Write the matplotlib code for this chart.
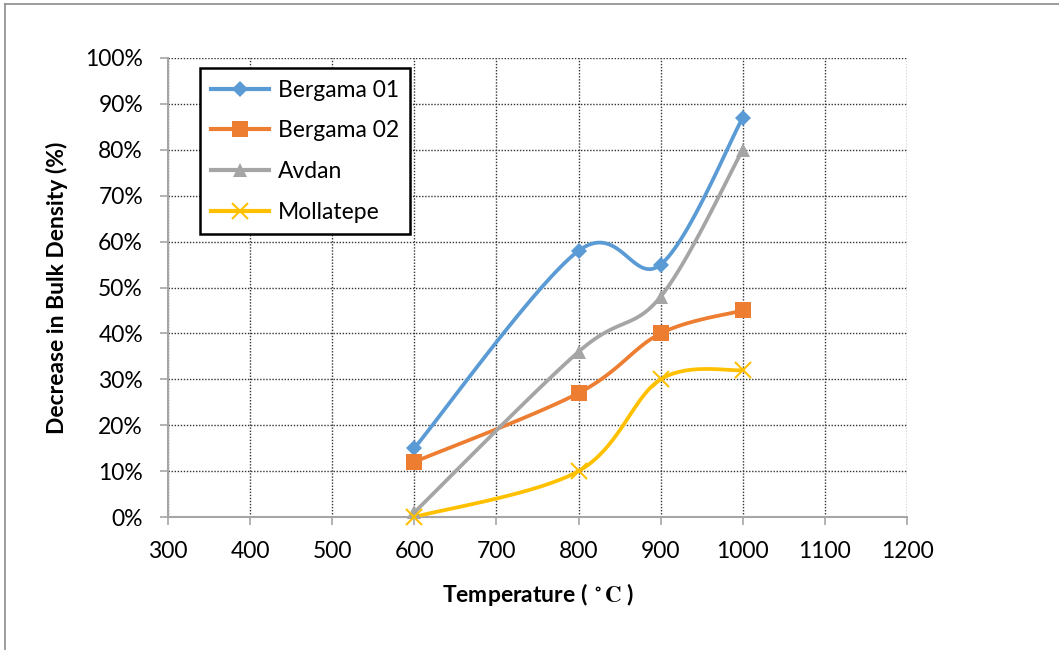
import numpy as np
import matplotlib.pyplot as plt
from matplotlib.lines import Line2D
from matplotlib.ticker import FuncFormatter

# --- data ---
temperatures = [600, 800, 900, 1000]
bergama_01 = [15, 58, 55, 87]
bergama_02 = [12, 27, 40, 45]
avdan = [1, 36, 48, 80]
mollatepe = [0, 10, 30, 32]

series_names = ["Bergama 01", "Bergama 02", "Avdan", "Mollatepe"]
series_values = [bergama_01, bergama_02, avdan, mollatepe]

x_ticks = [300, 400, 500, 600, 700, 800, 900, 1000, 1100, 1200]
y_ticks = [0, 10, 20, 30, 40, 50, 60, 70, 80, 90, 100]

colors = ["#5B9BD5", "#ED7D31", "#A5A5A5", "#FFC000"]
markers = ["D", "s", "^", "x"]
marker_sizes = [8, 11, 10, 11]

plt.rcParams['font.family'] = ['Lato', 'DejaVu Sans']
plt.rcParams['mathtext.fontset'] = 'stix'


def excel_smooth(xs, ys, n=40):
    # Bezier smoothing like Excel's "smoothed line"
    p = np.column_stack([xs, ys]).astype(float)
    ext = np.vstack([p[0], p, p[-1]])
    out = []
    t = np.linspace(0, 1, n)[:, None]
    for i in range(len(p) - 1):
        p0, p3 = ext[i + 1], ext[i + 2]
        c1 = p0 + (ext[i + 2] - ext[i]) / 6
        c2 = p3 - (ext[i + 3] - ext[i + 1]) / 6
        seg = ((1 - t) ** 3) * p0 + 3 * ((1 - t) ** 2) * t * c1 + 3 * (1 - t) * t ** 2 * c2 + t ** 3 * p3
        out.append(seg if i == 0 else seg[1:])
    out = np.vstack(out)
    return out[:, 0], out[:, 1]


fig = plt.figure(figsize=(10.59, 6.5), dpi=100)
ax = fig.add_axes([168 / 1059, 1 - 517 / 650, 739 / 1059, 459 / 650])

for name, vals, c, m, ms in zip(series_names, series_values, colors, markers, marker_sizes):
    sx, sy = excel_smooth(temperatures, vals)
    ax.plot(sx, sy, color=c, lw=2.7, solid_capstyle='round', zorder=3)
    ax.plot(temperatures, vals, ls='none', marker=m, ms=ms, color=c,
            mew=1.5 if m == 'x' else 0, zorder=4, clip_on=False)

ax.set_xlim(300, 1200)
ax.set_ylim(0, 100)
ax.set_xticks(x_ticks)
ax.set_yticks(y_ticks)
ax.yaxis.set_major_formatter(FuncFormatter(lambda v, p: f"{v:.0f}%"))
ax.tick_params(axis='both', labelsize=16.5, colors='#A6A6A6', labelcolor='black',
               length=6, width=1.2, direction='out')
ax.tick_params(axis='x', pad=11)
ax.tick_params(axis='y', pad=12)
ax.grid(True, color='#333333', ls=(0, (1, 1.2)), lw=1.0)
ax.set_axisbelow(True)
for s in ['top', 'right']:
    ax.spines[s].set_visible(False)
for s in ['left', 'bottom']:
    ax.spines[s].set_color('#A6A6A6')
    ax.spines[s].set_linewidth(1.5)

ax.set_xlabel(r"Temperature ( $\mathbf{^\circ C}$ )", fontsize=16.5, fontweight='bold', labelpad=14)
ax.set_ylabel("Decrease in Bulk Density (%)", fontsize=16.5, fontweight='bold', labelpad=12)

handles = [Line2D([], [], color=c, lw=3, marker=m, ms=ms, mew=1.5 if m == 'x' else 0)
           for c, m, ms in zip(colors, markers, marker_sizes)]
leg = ax.legend(handles, series_names, loc='upper left', bbox_to_anchor=(0.043, 0.978),
                fontsize=16.5, frameon=True, fancybox=False, framealpha=1,
                edgecolor='black', handlelength=2.5, handletextpad=0.4,
                labelspacing=0.86, borderpad=0.5, borderaxespad=0)
leg.get_frame().set_linewidth(1.8)

# outer chart frame
fig.add_artist(Line2D([5 / 1059, 1], [1 - 4 / 650, 1 - 4 / 650], color='#8C8C8C', lw=1.2))
fig.add_artist(Line2D([5 / 1059, 5 / 1059], [0, 1 - 4 / 650], color='#8C8C8C', lw=1.2))

fig.savefig("out.png", dpi=100)
